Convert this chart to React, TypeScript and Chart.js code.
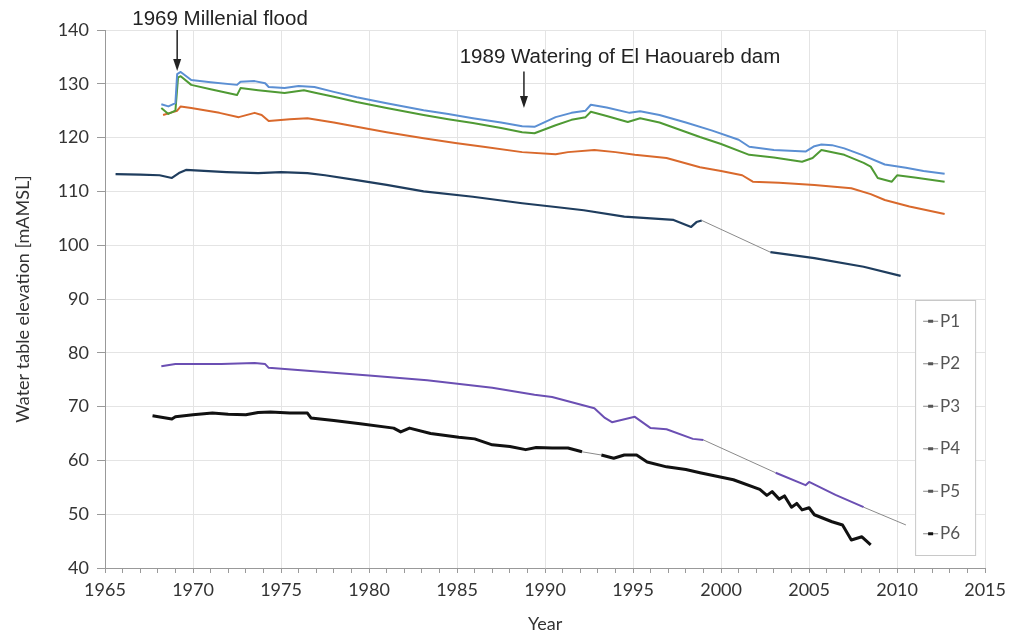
import React, { useEffect, useRef } from "react";
import { Chart, registerables } from "chart.js";

Chart.register(...registerables);

// ---------- data ----------
const SERIES_NAMES = ["P1", "P2", "P3", "P4", "P5", "P6"];

const P1_YEARS = [1968.2, 1968.6, 1969.0, 1969.1, 1969.3, 1969.9, 1971, 1972.5, 1972.7, 1973.5, 1974.1, 1974.3, 1975.2, 1976, 1976.9, 1978, 1979.3, 1981, 1983.1, 1984.5, 1985.9, 1987.5, 1988.7, 1989.4, 1990.6, 1991.5, 1992.3, 1992.6, 1993.5, 1994.8, 1995.4, 1996.5, 1998, 1999.5, 2001, 2001.6, 2003, 2004.8, 2005.3, 2005.7, 2006.3, 2007, 2008, 2009.3, 2010.5, 2011.5, 2012.7];
const P1_VALUES = [126.2, 125.8, 126.4, 131.8, 132.2, 130.7, 130.3, 129.8, 130.4, 130.5, 130.1, 129.4, 129.2, 129.6, 129.4, 128.5, 127.5, 126.4, 125.1, 124.4, 123.6, 122.8, 122.1, 122.0, 123.8, 124.6, 125.0, 126.1, 125.6, 124.6, 124.9, 124.2, 122.8, 121.3, 119.6, 118.3, 117.7, 117.4, 118.4, 118.7, 118.6, 118.0, 116.8, 115.0, 114.4, 113.8, 113.3];

const P2_YEARS = [1968.2, 1968.6, 1969.0, 1969.15, 1969.3, 1969.9, 1971, 1972.5, 1972.7, 1973.7, 1975.2, 1976.3, 1977, 1978, 1979.3, 1981, 1983.1, 1984.5, 1985.9, 1987.5, 1988.7, 1989.4, 1990.6, 1991.5, 1992.3, 1992.6, 1993.5, 1994.7, 1995.4, 1996.5, 1998.8, 2000, 2001.6, 2003, 2004.6, 2005.2, 2005.7, 2007, 2008.1, 2008.5, 2008.9, 2009.7, 2010, 2011, 2012.7];
const P2_VALUES = [125.5, 124.4, 125.0, 131.2, 131.4, 129.8, 129.0, 127.9, 129.2, 128.8, 128.3, 128.8, 128.3, 127.6, 126.6, 125.5, 124.2, 123.4, 122.7, 121.8, 121.0, 120.8, 122.3, 123.3, 123.8, 124.8, 124.0, 122.9, 123.6, 122.8, 120.1, 118.8, 116.8, 116.3, 115.5, 116.2, 117.7, 116.8, 115.3, 114.6, 112.5, 111.8, 113.0, 112.6, 111.8];

const P3_YEARS = [1968.3, 1968.7, 1969.1, 1969.3, 1969.9, 1971.5, 1972.6, 1973.5, 1973.9, 1974.3, 1975.5, 1976.5, 1978, 1979.3, 1981, 1983.1, 1984.9, 1986.5, 1988.7, 1990.6, 1991.3, 1992.8, 1994, 1995.1, 1996.9, 1998.8, 2000, 2001.2, 2001.8, 2003.3, 2005.3, 2007.4, 2008.5, 2009.3, 2010.7, 2012.7];
const P3_VALUES = [124.2, 124.6, 125.0, 125.8, 125.5, 124.6, 123.8, 124.6, 124.2, 123.1, 123.4, 123.6, 122.8, 122.0, 121.0, 119.9, 119.0, 118.3, 117.3, 116.9, 117.3, 117.7, 117.3, 116.8, 116.2, 114.5, 113.8, 113.0, 111.8, 111.6, 111.2, 110.6, 109.5, 108.4, 107.2, 105.8];

const P4_YEARS = [1965.6, 1967, 1968.1, 1968.8, 1969.2, 1969.6, 1971.9, 1973.7, 1975, 1976.5, 1977.5, 1979.3, 1981, 1983.1, 1985.9, 1988.7, 1990.6, 1992.2, 1994.5, 1997.3, 1998.3, 1998.6, 1998.9, 2002.8, 2005.3, 2008.1, 2010.2];
const P4_VALUES = [113.2, 113.1, 113.0, 112.5, 113.4, 114.0, 113.6, 113.4, 113.6, 113.4, 113.0, 112.1, 111.2, 110.0, 109.0, 107.8, 107.1, 106.5, 105.3, 104.7, 103.4, 104.3, 104.6, 98.7, 97.6, 96.0, 94.3];

const P5_YEARS = [1968.2, 1969.0, 1969.8, 1971.6, 1973.5, 1974.1, 1974.3, 1977.6, 1980, 1983.3, 1987, 1989.4, 1990.4, 1992.8, 1993.4, 1993.8, 1995.1, 1996, 1996.9, 1998.4, 1999, 2003.1, 2004.8, 2005, 2006.5, 2008.1, 2010.5];
const P5_VALUES = [77.5, 77.9, 77.9, 77.9, 78.1, 77.9, 77.2, 76.4, 75.8, 74.9, 73.5, 72.2, 71.8, 69.7, 67.9, 67.1, 68.1, 66.0, 65.8, 64.0, 63.8, 57.7, 55.4, 56.0, 53.6, 51.3, 48.0];

const P6_YEARS = [1967.7, 1968.8, 1969, 1970, 1971.1, 1972, 1973, 1973.7, 1974.4, 1975.5, 1976.5, 1976.7, 1978, 1979.5, 1981.4, 1981.8, 1982.3, 1983.5, 1985.1, 1986, 1987, 1988, 1988.9, 1989.5, 1990.4, 1991.3, 1992.1, 1993.2, 1993.9, 1994.5, 1995.2, 1995.8, 1996.9, 1998, 1998.8, 2000.7, 2002.2, 2002.6, 2002.9, 2003.3, 2003.6, 2004, 2004.3, 2004.6, 2005, 2005.3, 2006.3, 2006.9, 2007.4, 2008, 2008.5];
const P6_VALUES = [68.3, 67.7, 68.1, 68.5, 68.8, 68.6, 68.5, 68.9, 69.0, 68.8, 68.8, 67.9, 67.4, 66.8, 66.0, 65.3, 66.0, 65.0, 64.3, 64.0, 62.9, 62.6, 62.0, 62.4, 62.3, 62.3, 61.6, 61.0, 60.4, 61.0, 61.0, 59.7, 58.8, 58.3, 57.7, 56.4, 54.6, 53.5, 54.2, 52.8, 53.4, 51.3, 52.0, 50.8, 51.2, 49.9, 48.6, 48.0, 45.2, 45.8, 44.3];

// years after which there is a gap in the record (joined by a thin line)
const P1_GAPS: number[] = [];
const P2_GAPS: number[] = [];
const P3_GAPS: number[] = [];
const P4_GAPS = [1998.9];
const P5_GAPS = [1999, 2008.1];
const P6_GAPS = [1992.1];

const X_MIN = 1965;
const X_MAX = 2015;
const Y_MIN = 40;
const Y_MAX = 140;

// annotations
const ANNOTATION_TEXTS = ["1969 Millenial flood", "1989 Watering of El Haouareb dam"];
const ANNOTATION_ARROW_YEARS = [1969.1, 1988.8];
const ANNOTATION_TEXT_YEARS = [1966.55, 1985.15];
const ANNOTATION_TEXT_VALUES = [141.9, 135.0];
const ANNOTATION_ARROW_FROM = [140.0, 132.3];
const ANNOTATION_ARROW_TO = [132.4, 125.5];

// ---------- styles ----------
const COLORS = ["#5b8fd3", "#4f9a34", "#d9692c", "#1f3d5e", "#6b4fb3", "#111111"];
const WIDTHS = [2, 2, 2, 2.2, 2, 3];
const TICK_FONT = "Lato, 'Open Sans', sans-serif";
const NOTE_FONT = "'Liberation Sans', Arial, sans-serif";

function toPoints(xs: number[], ys: number[]) {
  return xs.map((x, i) => ({ x, y: ys[i] }));
}

const annotationPlugin = {
  id: "notes",
  afterDraw(chart: any) {
    const { ctx, scales } = chart;
    const xs = scales.x;
    const ys = scales.y;
    ctx.save();
    ANNOTATION_TEXTS.forEach((t, i) => {
      ctx.font = `20.5px ${NOTE_FONT}`;
      ctx.fillStyle = "#222";
      ctx.textAlign = "left";
      ctx.textBaseline = "middle";
      ctx.fillText(t, xs.getPixelForValue(ANNOTATION_TEXT_YEARS[i]), ys.getPixelForValue(ANNOTATION_TEXT_VALUES[i]));
      const ax = xs.getPixelForValue(ANNOTATION_ARROW_YEARS[i]);
      const y0 = ys.getPixelForValue(ANNOTATION_ARROW_FROM[i]);
      const y1 = ys.getPixelForValue(ANNOTATION_ARROW_TO[i]);
      ctx.strokeStyle = "#222";
      ctx.lineWidth = 1.5;
      ctx.beginPath();
      ctx.moveTo(ax, y0);
      ctx.lineTo(ax, y1 - 8);
      ctx.stroke();
      ctx.fillStyle = "#222";
      ctx.beginPath();
      ctx.moveTo(ax - 4, y1 - 12);
      ctx.lineTo(ax + 4, y1 - 12);
      ctx.lineTo(ax, y1);
      ctx.closePath();
      ctx.fill();
    });
    ctx.restore();
  },
};

const legendPlugin = {
  id: "boxLegend",
  afterDraw(chart: any) {
    const { ctx, chartArea } = chart;
    const right = chartArea.right - 10;
    const left = chartArea.right - 70;
    const bottom = chartArea.bottom - 13;
    const top = chartArea.bottom - 268;
    ctx.save();
    ctx.fillStyle = "#ffffff";
    ctx.fillRect(left, top, right - left, bottom - top);
    ctx.strokeStyle = "#c8c8c8";
    ctx.lineWidth = 1;
    ctx.strokeRect(left + 0.5, top + 0.5, right - left, bottom - top);
    const step = (bottom - top) / SERIES_NAMES.length;
    SERIES_NAMES.forEach((name, i) => {
      const cy = top + step * (i + 0.5);
      ctx.strokeStyle = "#888";
      ctx.lineWidth = 1;
      ctx.beginPath();
      ctx.moveTo(left + 8, cy);
      ctx.lineTo(left + 23, cy);
      ctx.stroke();
      ctx.fillStyle = i === 5 ? "#111" : "#555";
      ctx.fillRect(left + 13, cy - 1.5, 5, 3);
      ctx.font = `17px ${TICK_FONT}`;
      ctx.fillStyle = "#555";
      ctx.textAlign = "left";
      ctx.textBaseline = "middle";
      ctx.fillText(name, left + 25, cy);
    });
    ctx.restore();
  },
};

export default function App() {
  const canvasRef = useRef<HTMLCanvasElement | null>(null);

  useEffect(() => {
    document.body.style.margin = "0";
    const canvas = canvasRef.current;
    if (!canvas) return;
    const allYears = [P1_YEARS, P2_YEARS, P3_YEARS, P4_YEARS, P5_YEARS, P6_YEARS];
    const allValues = [P1_VALUES, P2_VALUES, P3_VALUES, P4_VALUES, P5_VALUES, P6_VALUES];
    const allGaps = [P1_GAPS, P2_GAPS, P3_GAPS, P4_GAPS, P5_GAPS, P6_GAPS];
    const datasets = SERIES_NAMES.map((name, i) => {
      const isGap = (c: any) => allGaps[i].includes(c.p0.parsed.x);
      return {
        label: name,
        data: toPoints(allYears[i], allValues[i]),
        borderColor: COLORS[i],
        backgroundColor: COLORS[i],
        borderWidth: WIDTHS[i],
        borderJoinStyle: "round" as const,
        pointRadius: 0,
        tension: 0,
        fill: false,
        segment: {
          borderWidth: (c: any) => (isGap(c) ? 1 : WIDTHS[i]),
          borderColor: (c: any) => (isGap(c) ? "#8a8a8a" : COLORS[i]),
        },
      };
    });

    const chart = new Chart(canvas, {
      type: "line",
      data: { datasets },
      plugins: [annotationPlugin, legendPlugin],
      options: {
        animation: false,
        responsive: false,
        maintainAspectRatio: false,
        parsing: false as any,
        layout: { padding: { top: 30, right: 17, left: 0, bottom: 0 } },
        plugins: { legend: { display: false }, tooltip: { enabled: false }, title: { display: false } },
        scales: {
          x: {
            type: "linear",
            min: X_MIN,
            max: X_MAX,
            afterFit: (s: any) => { s.height = 71; },
            ticks: {
              stepSize: 1,
              autoSkip: false,
              maxRotation: 0,
              minRotation: 0,
              padding: 6,
              color: "#333",
              font: { family: TICK_FONT, size: 18 },
              callback: (v: any) => (Number(v) % 5 === 0 ? String(v) : ""),
            },
            grid: {
              color: (c: any) => (c.tick && Number(c.tick.value) % 5 === 0 ? "#e4e4e4" : "rgba(0,0,0,0)"),
              tickColor: "#9a9a9a",
              tickLength: 5,
            },
            border: { display: true, color: "#999" },
            title: {
              display: true,
              text: "Year",
              color: "#333",
              font: { family: TICK_FONT, size: 18 },
              padding: { top: 0, bottom: 4 },
            },
          },
          y: {
            type: "linear",
            min: Y_MIN,
            max: Y_MAX,
            afterFit: (s: any) => { s.width = 105; },
            ticks: {
              stepSize: 10,
              padding: 8,
              color: "#333",
              font: { family: TICK_FONT, size: 18 },
            },
            grid: { color: "#e4e4e4", tickColor: "#9a9a9a", tickLength: 8 },
            border: { display: true, color: "#999" },
            title: {
              display: true,
              text: "Water table elevation [mAMSL]",
              color: "#333",
              font: { family: TICK_FONT, size: 18 },
              padding: { top: 12, bottom: 0 },
            },
          },
        },
      },
    });
    return () => chart.destroy();
  }, []);

  return (
    <div style={{ width: 1012, height: 639, background: "#fff" }}>
      <canvas ref={canvasRef} width={1012} height={639} style={{ display: "block" }} />
    </div>
  );
}
